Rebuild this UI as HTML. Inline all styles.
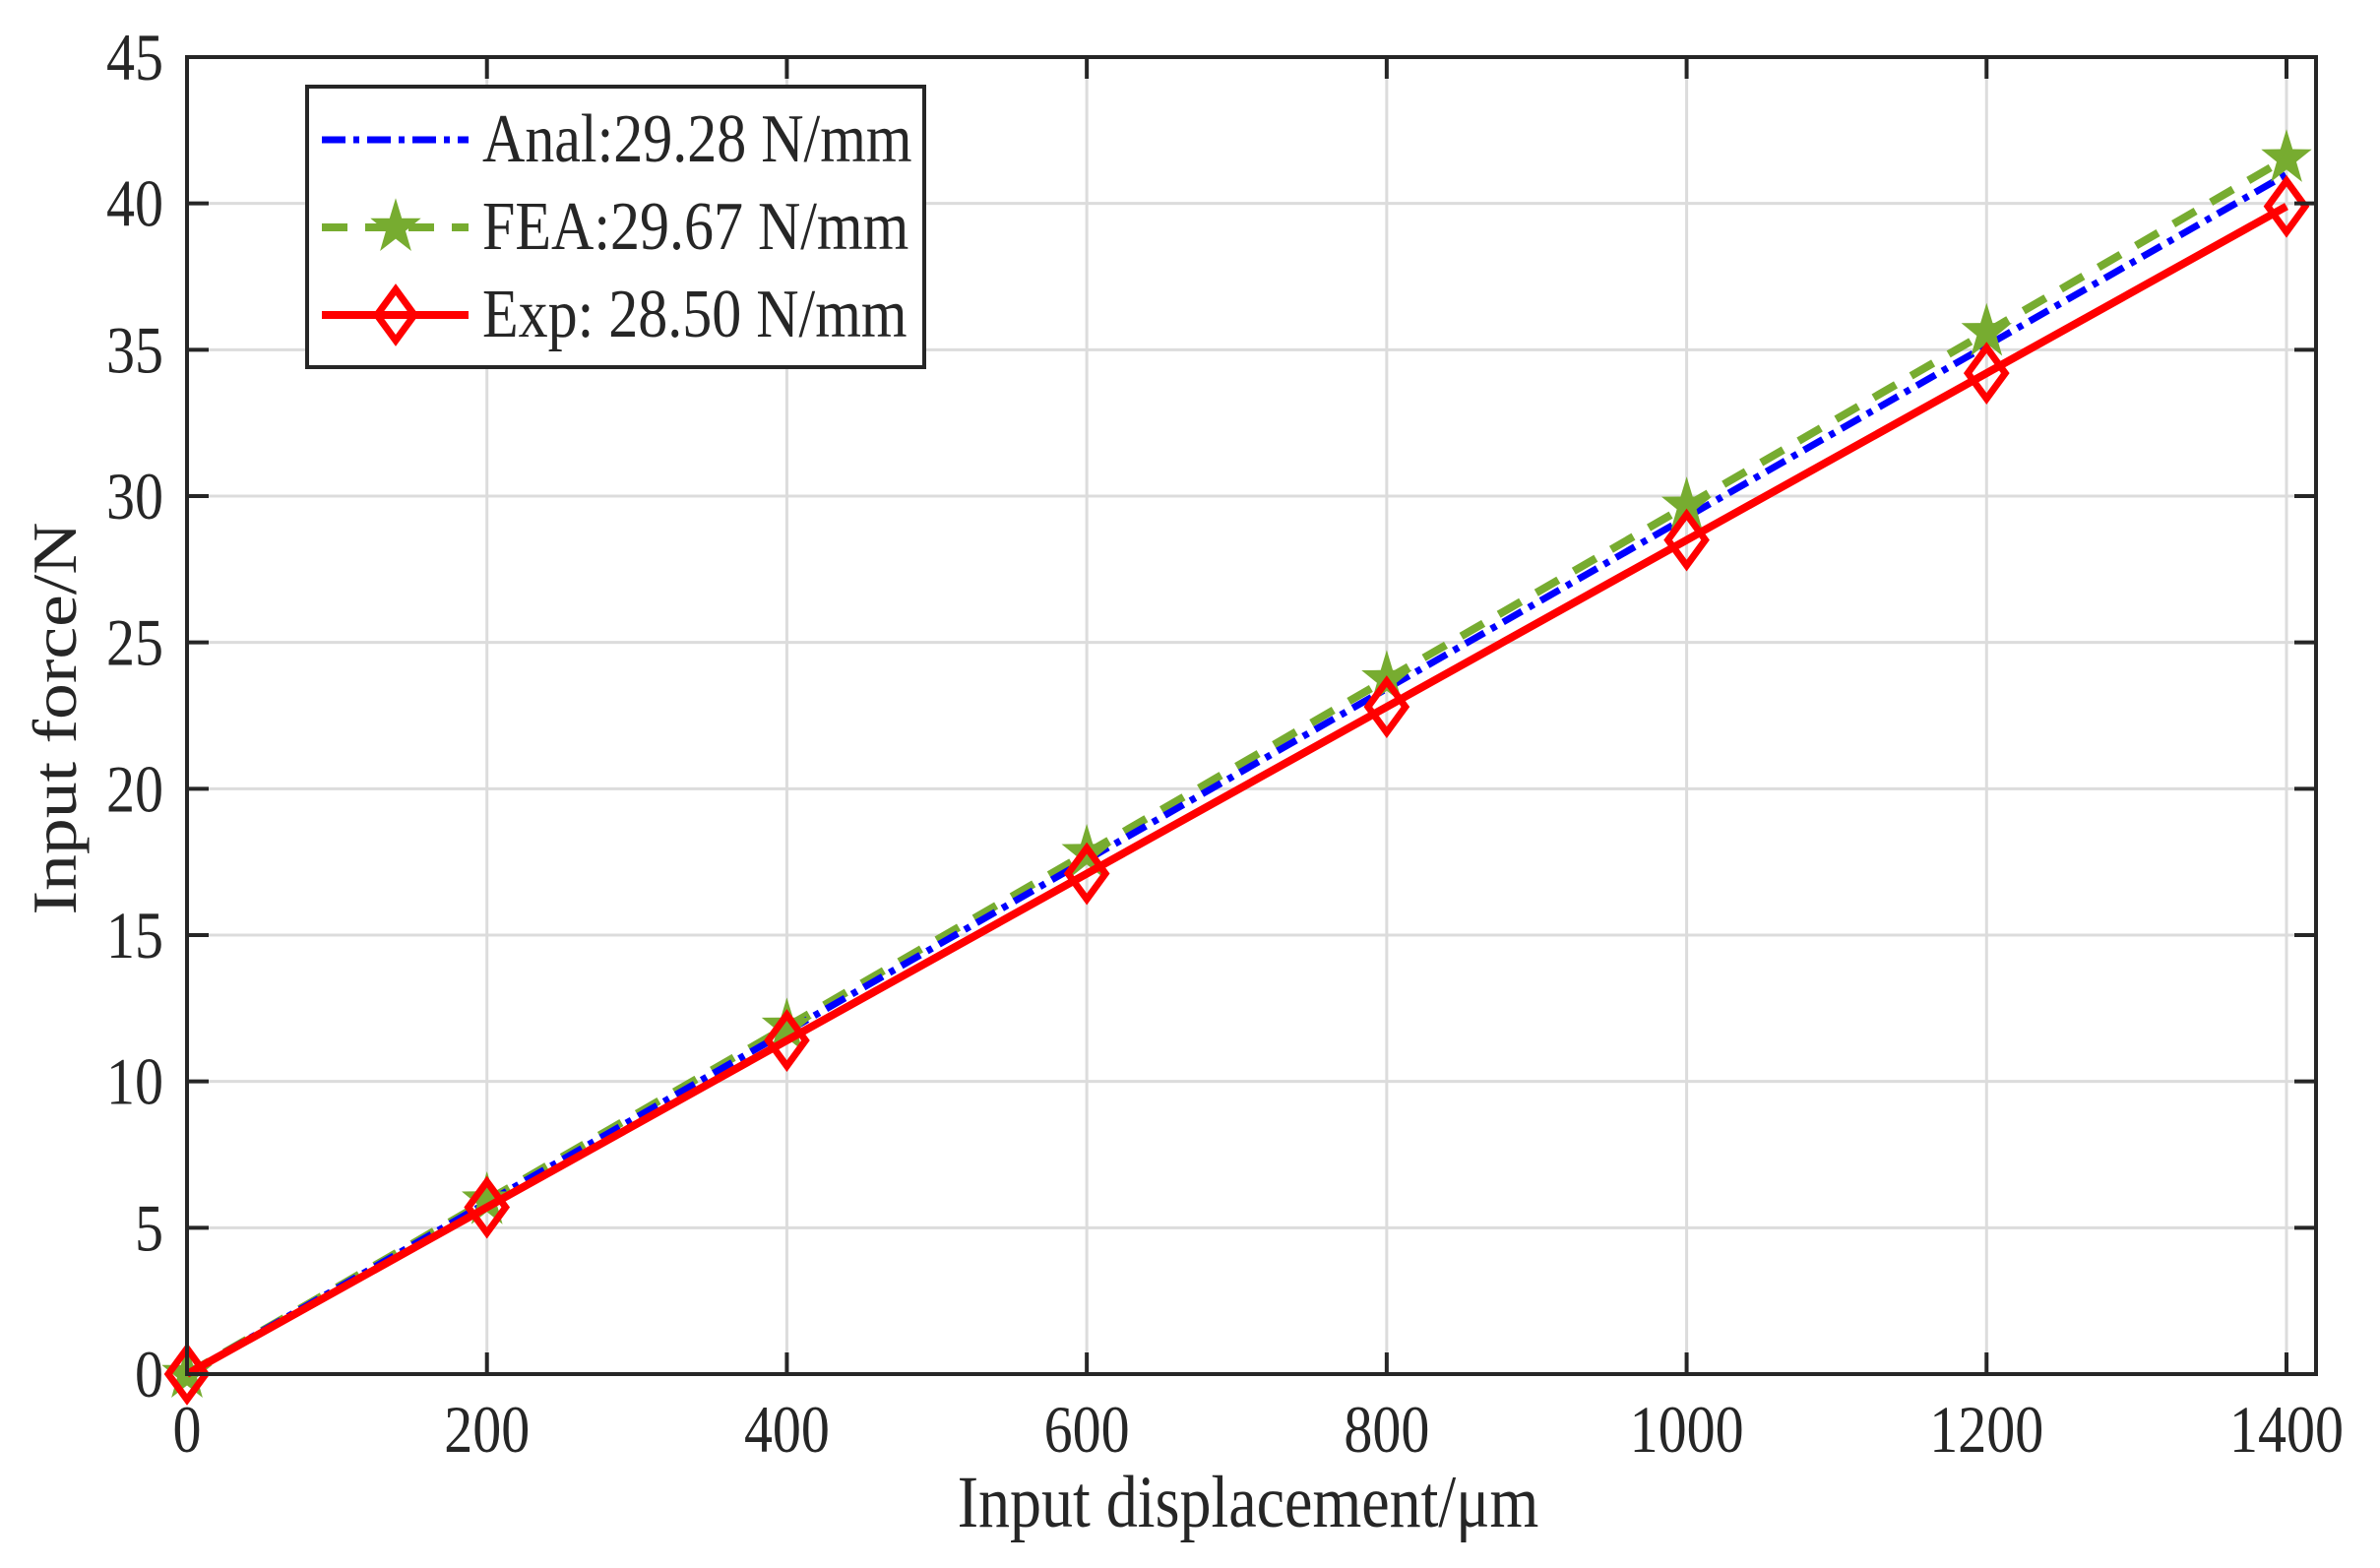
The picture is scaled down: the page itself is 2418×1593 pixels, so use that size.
<!DOCTYPE html>
<html><head><meta charset="utf-8"><style>
html,body{margin:0;padding:0;background:#fff;}
svg{display:block;}
text{font-family:"Liberation Serif","DejaVu Serif",serif;fill:#262626;}
</style></head>
<body>
<svg id="chart" width="2418" height="1593" viewBox="0 0 2418 1593" xmlns="http://www.w3.org/2000/svg">
<rect x="0" y="0" width="2418" height="1593" fill="#fff"/>
<g id="grid"></g>
<g id="series"></g>
<g id="axes"></g>
<g id="legend"></g>
</svg>
<script>
const xValues = [0, 200, 400, 600, 800, 1000, 1200, 1400];
const analValues = [0, 5.86, 11.71, 17.57, 23.42, 29.28, 35.14, 40.99];
const feaValues = [0, 5.93, 11.87, 17.80, 23.74, 29.67, 35.60, 41.54];
const expValues = [0, 5.70, 11.40, 17.10, 22.80, 28.50, 34.20, 39.90];
const xTicks = [0, 200, 400, 600, 800, 1000, 1200, 1400];
const yTicks = [0, 5, 10, 15, 20, 25, 30, 35, 40, 45];
const legendLabels = ["Anal:29.28 N/mm", "FEA:29.67 N/mm", "Exp: 28.50 N/mm"];

const NS = "http://www.w3.org/2000/svg";
const L = 190, R = 2353, T = 58, B = 1396;
const X0 = 190, X1 = 2323;
function sx(v){ return X0 + (v - 0) / 1400 * (X1 - X0); }
function sy(v){ return B - v / 45 * (B - T); }
function mk(tag, attrs, parent){
  const e = document.createElementNS(NS, tag);
  for (const k in attrs) e.setAttribute(k, attrs[k]);
  parent.appendChild(e);
  return e;
}
const grid = document.getElementById('grid');
const axes = document.getElementById('axes');
const series = document.getElementById('series');
const legend = document.getElementById('legend');
const SY = 1.17;

xTicks.forEach(v => {
  const l = mk('line', {x1: sx(v), x2: sx(v), y1: T, y2: B, stroke: '#dcdcdc', 'stroke-width': 3}, grid);
  
  
});
yTicks.forEach(v => {
  const l = mk('line', {x1: L, x2: R, y1: sy(v), y2: sy(v), stroke: '#dcdcdc', 'stroke-width': 3}, grid);
  
  
});

function label(txt, x, y, size, anchor, parent, rot){
  const t = mk('text', {'font-size': size, 'text-anchor': anchor,
    transform: rot ? `translate(${x},${y}) rotate(-90) scale(${SY},1)` : `translate(${x},${y}) scale(1,${SY})`}, parent);
  t.textContent = txt;
  return t;
}

function seriesPath(vals){
  return vals.map((v, i) => (i ? 'L' : 'M') + sx(xValues[i]).toFixed(1) + ',' + sy(v).toFixed(1)).join(' ');
}
function starPts(cx, cy, ro, ri){
  const p = [];
  for (let k = 0; k < 10; k++){
    const a = -Math.PI/2 + k * Math.PI/5;
    const r = k % 2 ? ri : ro;
    p.push((cx + r*Math.cos(a)).toFixed(1) + ',' + (cy + r*Math.sin(a)*1.1).toFixed(1));
  }
  return p.join(' ');
}
function diamondPts(cx, cy){
  return `${cx},${cy-26} ${cx+19},${cy} ${cx},${cy+26} ${cx-19},${cy}`;
}
const feaLine = mk('path', {d: seriesPath(feaValues), fill: 'none', stroke: '#77ac30', 'stroke-width': 8, 'stroke-dasharray': '26 18'}, series);


const analLine = mk('path', {d: seriesPath(analValues), fill: 'none', stroke: '#0000ff', 'stroke-width': 7, 'stroke-dasharray': '22 8 6 8'}, series);


feaValues.forEach((v, i) => {
  const s = mk('polygon', {points: starPts(sx(xValues[i]), sy(v), 27, 10.5), fill: '#77ac30'}, series);
  
  
});
const expLine = mk('path', {d: seriesPath(expValues), fill: 'none', stroke: '#ff0000', 'stroke-width': 8}, series);


expValues.forEach((v, i) => {
  const d = mk('polygon', {points: diamondPts(sx(xValues[i]), sy(v)), fill: 'none', stroke: '#ff0000', 'stroke-width': 7}, series);
  
  
});

const box = mk('rect', {x: L, y: T, width: R - L, height: B - T, fill: 'none', stroke: '#262626', 'stroke-width': 4}, axes);


xTicks.forEach(v => {
  const t1 = mk('line', {x1: sx(v), x2: sx(v), y1: B, y2: B - 22, stroke: '#262626', 'stroke-width': 4}, axes);
  
  
  const t2 = mk('line', {x1: sx(v), x2: sx(v), y1: T, y2: T + 22, stroke: '#262626', 'stroke-width': 4}, axes);
  
  
  const lb = label(String(v), sx(v), 1475, 58, 'middle', axes);
  
  
});
yTicks.forEach(v => {
  const t1 = mk('line', {x1: L, x2: L + 22, y1: sy(v), y2: sy(v), stroke: '#262626', 'stroke-width': 4}, axes);
  
  
  const t2 = mk('line', {x1: R, x2: R - 22, y1: sy(v), y2: sy(v), stroke: '#262626', 'stroke-width': 4}, axes);
  
  
  const lb = label(String(v), 166, sy(v) + 23, 58, 'end', axes);
  
  
});
const xt = label('Input displacement/\u03bcm', 1268, 1551, 64, 'middle', axes);


const yt = label('Input force/N', 77, 730, 63, 'middle', axes, true);



const lgBox = mk('rect', {x: 312, y: 88, width: 627, height: 285, fill: '#fff', stroke: '#262626', 'stroke-width': 4}, legend);


const rows = [142, 231, 320];
const la = mk('line', {x1: 327, x2: 476, y1: rows[0], y2: rows[0], stroke: '#0000ff', 'stroke-width': 7, 'stroke-dasharray': '24 8 6 8'}, legend);


const lf = mk('line', {x1: 327, x2: 476, y1: rows[1], y2: rows[1], stroke: '#77ac30', 'stroke-width': 8, 'stroke-dasharray': '26 18'}, legend);


const ls = mk('polygon', {points: starPts(402, rows[1], 27, 10.5), fill: '#77ac30'}, legend);


const le = mk('line', {x1: 327, x2: 476, y1: rows[2], y2: rows[2], stroke: '#ff0000', 'stroke-width': 8}, legend);


const ld = mk('polygon', {points: diamondPts(402, rows[2]), fill: 'none', stroke: '#ff0000', 'stroke-width': 7}, legend);


legendLabels.forEach((s, i) => {
  const t = label(s, 490, rows[i] + 22, 60, 'start', legend);
  t.setAttribute('fill', '#000');
  
  
});
</script>
</body></html>
